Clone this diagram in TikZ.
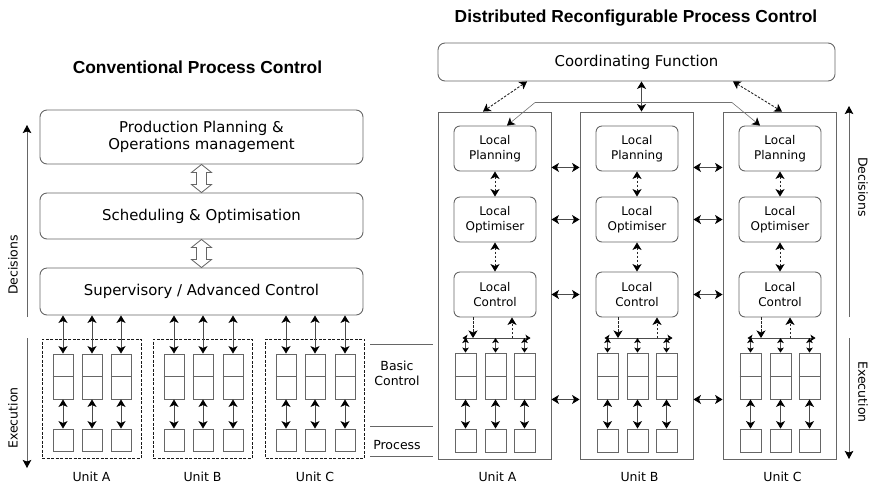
\documentclass[tikz,border=0pt]{standalone}
\usepackage{fontspec}
\setmainfont{DejaVu Sans}
\newfontfamily\headfont{Liberation Sans}
\usetikzlibrary{arrows.meta,calc}

% outlined double arrow between two stacked boxes
\newcommand\hollowlink[2]{%
  \draw[draw=black!60, fill=white, line width=0.8pt]
    let \p1=(#1), \p2=(#2) in
    (\x1,\y1) -- (\x1+10pt,\y1-8pt) -- (\x1+5pt,\y1-8pt) -- (\x1+5pt,\y2+8pt)
    -- (\x1+10pt,\y2+8pt) -- (\x1,\y2) -- (\x1-10pt,\y2+8pt) -- (\x1-5pt,\y2+8pt)
    -- (\x1-5pt,\y1-8pt) -- (\x1-10pt,\y1-8pt) -- cycle;}

\begin{document}
\begin{tikzpicture}[x=1pt,y=-1pt,line width=0.9pt,
  >={Stealth[length=7.5pt,width=9pt,inset=2pt,color=black]},
  title/.style={font=\headfont\bfseries\fontsize{17.4}{20}\selectfont, anchor=base},
  bigbox/.style={draw=black!60, rounded corners=7pt, minimum width=323pt, align=center,
    inner sep=0pt, font=\fontsize{14.9}{17.5}\selectfont},
  localbox/.style={draw=black!60, rounded corners=6pt, minimum width=82pt, minimum height=45pt,
    align=center, inner sep=0pt, font=\fontsize{12}{15}\selectfont},
  unitframe/.style={draw=black!60, minimum width=113pt, minimum height=347pt, inner sep=0pt},
  dashframe/.style={draw=black!90, dash pattern=on 3pt off 1.5pt, minimum width=99pt,
    minimum height=119pt, inner sep=0pt},
  ctrlbox/.style={draw=black!60, minimum width=20pt, minimum height=45pt, inner sep=0pt},
  procbox/.style={draw=black!60, minimum width=20pt, minimum height=22pt, inner sep=0pt},
  label/.style={font=\fontsize{12.5}{15}\selectfont, align=center, inner sep=0pt},
  link/.style={draw=black!70, <->},
  dlink/.style={draw=black!85, <->, dash pattern=on 2.5pt off 1.5pt},
  dstub/.style={draw=black!85, ->, dash pattern=on 2.5pt off 1.5pt},
  slink/.style={draw=black!70, line width=0.8pt,
    {Stealth[length=5pt,width=6.5pt,inset=1.2pt,color=black]}-{Stealth[length=5pt,width=6.5pt,inset=1.2pt,color=black]}},
  thinlink/.style={draw=black!55, line width=0.6pt, <->},
  sep/.style={draw=black!60, line width=0.8pt},
  axis/.style={draw=black!60, -{Stealth[length=8pt,width=8.5pt,inset=1.5pt,color=black]}},
]
\useasboundingbox (0,0) rectangle (874,488);

% ---------------- conventional process control ----------------
\node[title] (tconv) at (197.5,73.5) {Conventional Process Control};

\node[bigbox, minimum height=54pt] (pp) at (201.5,137) {Production Planning \&\\Operations management};
\node[bigbox, minimum height=46pt] (so) at (201.5,216) {Scheduling \& Optimisation};
\node[bigbox, minimum height=47pt] (sa) at (201.5,291.5) {Supervisory / Advanced Control};

\hollowlink{pp.south}{so.north}
\hollowlink{so.south}{sa.north}

\foreach \u/\cx/\xa/\xb/\xc in {A/91.5/63/92/121, B/202.5/174/203/233, C/315/286/315/345} {
  \node[dashframe] (u\u) at (\cx,398.5) {};
  \foreach \k/\x in {1/\xa,2/\xb,3/\xc} {
    \node[ctrlbox] (c\u\k) at (\x,376.5) {};
    \draw[draw=black!60] (c\u\k.west) -- (c\u\k.east);
    \node[procbox] (p\u\k) at (\x,440) {};
    \draw[link] (c\u\k.north |- sa.south) -- (c\u\k.north);
    \draw[link] (c\u\k.south) -- (p\u\k.north);
  }
  \node[label] (ul\u) at (\cx,477) {Unit \u};
}

% level labels between the two halves
\draw[sep] (370,344) -- (433,344);
\draw[sep] (370,426) -- (433,426);
\draw[sep] (370,456) -- (433,456);
\node[label] (basic) at (397,373) {Basic\\Control};
\node[label] (proc) at (397,445) {Process};

% left axis
\coordinate (la1) at (27,317);
\coordinate (la2) at (27,125);
\coordinate (la3) at (27,338);
\coordinate (la4) at (27,468);
\draw[axis] (la1) -- (la2);
\draw[axis] (la3) -- (la4);
\node[label, rotate=90] (ldec) at (13,265) {Decisions};
\node[label, rotate=90] (lexe) at (13,418) {Execution};

% ---------------- distributed reconfigurable process control ----------------
\node[title] (tdist) at (636,22) {Distributed Reconfigurable Process Control};
\node[bigbox, minimum width=397pt, minimum height=38pt] (cf) at (636.5,62) {Coordinating Function};

\foreach \u/\cx/\dn/\up in {A/494.5/-22/17, B/636.5/-19/20, C/779.5/-19/10} {
  \node[unitframe] (r\u) at (\cx,285.5) {};
  \node[localbox] (lp\u) at (\cx+0.5,148.5) {Local\\Planning};
  \node[localbox] (lo\u) at (\cx+0.5,219.5) {Local\\Optimiser};
  \node[localbox] (lc\u) at (\cx+0.5,294.5) {Local\\Control};
  \draw[dlink] (lp\u.south) -- (lo\u.north);
  \draw[dlink] (lo\u.south) -- (lc\u.north);
  % field bus below the local controller
  \coordinate (bl\u) at (\cx-32,338);
  \coordinate (br\u) at (\cx+36,338);
  \draw[slink] (bl\u) -- (br\u);
  \coordinate (dn\u) at ([xshift=\dn pt]lc\u.south);
  \coordinate (up\u) at ([xshift=\up pt]lc\u.south);
  \draw[dstub] (dn\u) -- (dn\u |- bl\u);
  \draw[dstub] (up\u |- bl\u) -- (up\u);
  \foreach \k/\dx in {1/-29,2/1,3/30} {
    \node[ctrlbox, minimum width=21pt, minimum height=46pt] (rc\u\k) at (\cx+\dx,376) {};
    \draw[draw=black!60] (rc\u\k.west) -- (rc\u\k.east);
    \node[procbox, minimum width=21pt, minimum height=23pt] (rp\u\k) at (\cx+\dx,440.5) {};
    \draw[slink] (rc\u\k.north |- bl\u) -- (rc\u\k.north);
    \draw[link] (rc\u\k.south) -- (rp\u\k.north);
  }
  \node[label] (rl\u) at (\cx+3,477) {Unit \u};
}

% links between neighbouring units
\foreach \a/\b in {A/B, B/C} {
  \draw[link] ($(r\a.east |- lp\a.south)+(0,-4)$) -- ($(r\b.west |- lp\a.south)+(0,-4)$);
  \draw[link] (r\a.east |- lo\a) -- (r\b.west |- lo\a);
  \draw[link] (r\a.east |- lc\a) -- (r\b.west |- lc\a);
  \draw[link] (r\a.east |- rc\a1.south) -- (r\b.west |- rc\a1.south);
}

% coordinating function to the units
\draw[dlink] ([xshift=-109.5pt]cf.south) -- ([xshift=-11.5pt]rA.north);
\draw[link] ([xshift=5pt]cf.south) -- ([xshift=5pt]rB.north);
\draw[dlink] ([xshift=96.5pt]cf.south) -- ([xshift=2.5pt]rC.north);
\coordinate (hl) at ($(cf.south)!0.7!(rB.north)$);
\draw[thinlink] ([xshift=12pt]lpA.north) -- ([xshift=-101.5pt]hl) -- ([xshift=95.5pt]hl)
  -- ([xshift=-20pt]lpC.north);

% right axis
\coordinate (ra1) at (849,317);
\coordinate (ra2) at (849,106);
\coordinate (ra3) at (849,338);
\coordinate (ra4) at (849,459);
\draw[axis] (ra1) -- (ra2);
\draw[axis] (ra3) -- (ra4);
\node[label, rotate=-90] (rdec) at (863,187) {Decisions};
\node[label, rotate=-90] (rexe) at (863,392) {Execution};
\end{tikzpicture}
\end{document}
